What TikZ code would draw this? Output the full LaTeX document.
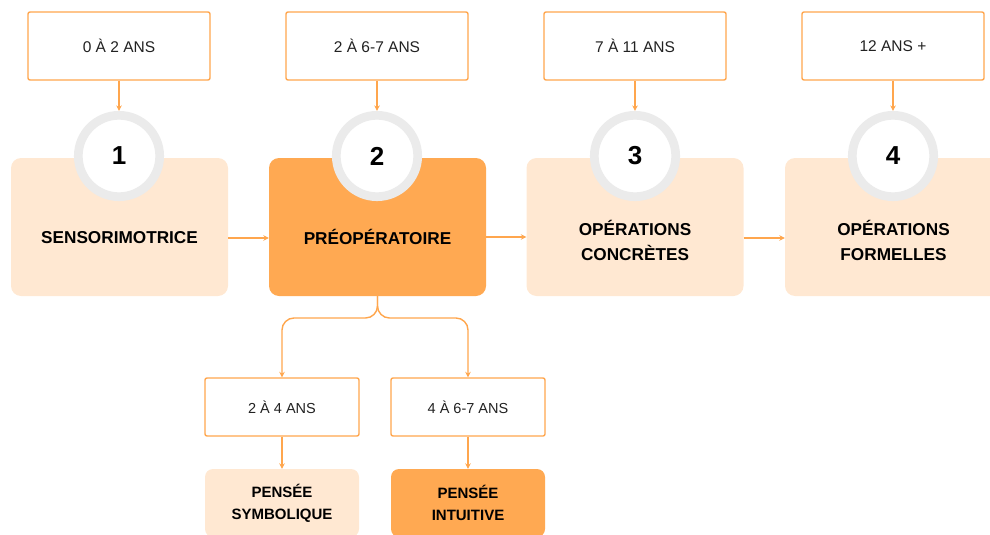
\documentclass[tikz,border=0pt]{standalone}
\usepackage{fontspec}
\setmainfont{Liberation Sans}
\usetikzlibrary{arrows.meta}

\definecolor{darkorange}{HTML}{FFA952}
\definecolor{lightpeach}{HTML}{FFE8D2}
\definecolor{lineorange}{HTML}{FFA64D}
\definecolor{ringgray}{HTML}{EBEBEB}
\definecolor{textgray}{HTML}{222222}

\tikzset{
  agebox/.style={draw=lineorange, line width=1.4pt, rounded corners=2pt, fill=white,
    minimum width=182pt, minimum height=68pt, text=textgray,
    font=\fontsize{15.5}{18}\selectfont},
  subage/.style={agebox, minimum width=154pt, minimum height=58pt,
    font=\fontsize{14.5}{17}\selectfont},
  stagebox/.style={rounded corners=10pt, minimum width=217pt, minimum height=138pt},
  stagetxt/.style={align=center, font=\fontsize{17.2}{25}\selectfont\bfseries},
  pensbox/.style={rounded corners=8pt, minimum width=154pt, minimum height=68pt,
    align=center, font=\fontsize{15}{22}\selectfont\bfseries},
  numring/.style={circle, draw=ringgray, line width=8.7pt, fill=white, inner sep=0pt,
    minimum size=81.4pt, font=\fontsize{26}{30}\selectfont\bfseries},
  conn/.style={draw=lineorange, line width=1.4pt, -{Stealth[length=5.5pt,width=5.5pt]}}
}

\begin{document}
\begin{tikzpicture}[x=1pt, y=-1pt]
   \useasboundingbox (0,0) rectangle (990,535);
   % age boxes
   \begin{scope}[every node/.style={agebox}]
    \node (age1) at (119,46) {0 À 2 ANS};
    \node (age2) at (377,46) {2 À 6-7 ANS};
    \node (age3) at (635,46) {7 À 11 ANS};
    \node (age4) at (893,46) {12 ANS +};
   \end{scope}
   % stages
   \node[stagebox, fill=lightpeach] (st1) at (119.5,227) {};
   \node[stagebox, fill=darkorange] (st2) at (377.5,227) {};
   \node[stagebox, fill=lightpeach] (st3) at (635,227) {};
   \node[stagebox, fill=lightpeach] (st4) at (893.5,227) {};
   \begin{scope}[every node/.style={stagetxt}]
    \node (txt1) at ([yshift=-11pt]st1.center) {SENSORIMOTRICE};
    \node (txt2) at ([yshift=-10pt]st2.center) {PRÉOPÉRATOIRE};
    \node (txt3) at ([yshift=-13.5pt]st3.center) {OPÉRATIONS\\CONCRÈTES};
    \node (txt4) at ([yshift=-13.5pt]st4.center) {OPÉRATIONS\\FORMELLES};
   \end{scope}
   \begin{scope}[every node/.style={numring}]
    \node (num1) at (119,156) {1};
    \node (num2) at (377,156) {2};
    \node (num3) at (635,156) {3};
    \node (num4) at (893,156) {4};
   \end{scope}
   % sub stages
   \node[subage] (suba) at (282,407) {2 À 4 ANS};
   \node[subage] (subb) at (468,407) {4 À 6-7 ANS};
   \node[pensbox, fill=lightpeach] (pensa) at (282,503) {PENSÉE\\SYMBOLIQUE};
   \node[pensbox, fill=darkorange] (pensb) at (468,503) {PENSÉE\\INTUITIVE};
   \coordinate (fork) at (377,318);

   \begin{scope}[every edge/.style={conn}]
    \draw (age1) edge (num1);
    \draw (age2) edge (num2);
    \draw (age3) edge (num3);
    \draw (age4) edge (num4);
    \draw ([yshift=-11pt]st1.east) edge ([yshift=-11pt]st2.west);
    \draw ([yshift=-10pt]st2.east) edge ([yshift=-10pt]st3.west);
    \draw ([yshift=-11pt]st3.east) edge ([yshift=-11pt]st4.west);
    \draw (suba) edge (pensa);
    \draw (subb) edge (pensb);
   \end{scope}
   \draw[conn, rounded corners=12pt] (st2.south) |- (fork -| suba.north) -- (suba.north);
   \draw[conn, rounded corners=12pt] (st2.south) |- (fork -| subb.north) -- (subb.north);
\end{tikzpicture}
\end{document}
